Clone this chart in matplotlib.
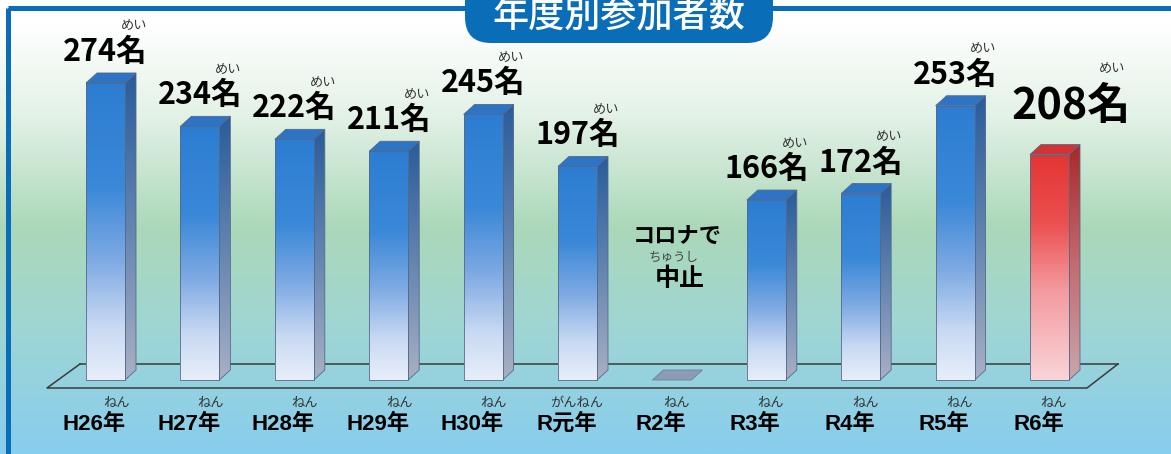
import numpy as np
import matplotlib
matplotlib.use('Agg')
import matplotlib.pyplot as plt
from matplotlib.colors import LinearSegmentedColormap
from matplotlib.patches import Polygon, Rectangle, FancyBboxPatch
from matplotlib.lines import Line2D

plt.rcParams['font.family'] = ['Noto Sans CJK JP', 'DejaVu Sans']

# data
years = ['H26年', 'H27年', 'H28年', 'H29年', 'H30年', 'R元年',
         'R2年', 'R3年', 'R4年', 'R5年', 'R6年']
year_ruby = ['ねん', 'ねん', 'ねん', 'ねん', 'ねん', 'がんねん',
             'ねん', 'ねん', 'ねん', 'ねん', 'ねん']
counts = [274, 234, 222, 211, 245, 197, 0, 166, 172, 253, 208]
cancelled = [False, False, False, False, False, False,
             True, False, False, False, False]
highlight = 10
unit = '名'
unit_ruby = 'めい'
title = '年度別参加者数'
note_top = 'コロナで'
note_ruby = 'ちゅうし'
note_bottom = '中止'

# layout (pixels)
W, H = 1171, 454
x0_px, pitch = 105.5, 94.4      # centre of first bar face, spacing
base_px, scale = 380, 1.084     # baseline from top, px per person
face_w = 39 / pitch
dx, dy = 11 / pitch, 10 / scale
pt = 72 / 100

blue = '#0a6db7'
blue_front = LinearSegmentedColormap.from_list(
    'bf', [(0, '#2c7dd2'), (0.35, '#3a88d8'), (0.6, '#7eaae3'),
           (0.82, '#c8d9f3'), (1, '#e8eef9')])
blue_side = LinearSegmentedColormap.from_list(
    'bs', [(0, '#2a5c9a'), (0.5, '#6384b0'), (1, '#a9b0c4')])
red_front = LinearSegmentedColormap.from_list(
    'rf', [(0, '#e33533'), (0.3, '#eb4f4f'), (0.6, '#f39a9e'), (1, '#f9d4d9')])
red_side = LinearSegmentedColormap.from_list(
    'rs', [(0, '#a82828'), (0.5, '#c26a6e'), (1, '#c9a7ac')])
bg_cmap = LinearSegmentedColormap.from_list(
    'bg', [(0, '#ffffff'), (0.05, '#ffffff'), (0.25, '#e4f2e7'),
           (0.5, '#abd8b9'), (0.72, '#9fd6d3'), (1, '#87cdee')])

fig = plt.figure(figsize=(W / 100, H / 100), dpi=100)

# pixel axes for background / decorations
pa = fig.add_axes([0, 0, 1, 1])
pa.set_xlim(0, W)
pa.set_ylim(H, 0)
pa.axis('off')
pa.imshow(np.linspace(0, 1, 256).reshape(-1, 1), cmap=bg_cmap, aspect='auto',
          extent=(0, W, H, 0), interpolation='bilinear')
pa.set_xlim(0, W)
pa.set_ylim(H, 0)
PX = pa.transData

# data axes
ax = fig.add_axes([0, 0, 1, 1])
ax.patch.set_alpha(0)
ax.axis('off')
ax.set_autoscale_on(False)
ax.set_xlim(-x0_px / pitch, (W - x0_px) / pitch)
ax.set_ylim(-(H - base_px) / scale, base_px / scale)

# floor
floor_col = '#3a3a3a'
ax.add_line(Line2D([80, 1118], [364, 364], transform=PX, color=floor_col, lw=1.1, zorder=1))
ax.add_line(Line2D([80, 47, 1087, 1118], [364, 388, 388, 364], transform=PX,
                   color=floor_col, lw=1.1, zorder=1))


def grad_face(verts, cmap, z):
    poly = Polygon(verts, closed=True, facecolor='none', edgecolor='#55698a',
                   lw=0.6, zorder=z + 0.1)
    ax.add_patch(poly)
    xs = [p[0] for p in verts]
    ys = [p[1] for p in verts]
    im = ax.imshow(np.linspace(0, 1, 256).reshape(-1, 1), cmap=cmap, aspect='auto',
                   extent=(min(xs), max(xs), min(ys), max(ys)), origin='upper',
                   interpolation='bilinear', zorder=z)
    im.set_clip_path(poly)


for i, v in enumerate(counts):
    l, r = i - face_w / 2, i + face_w / 2
    if cancelled[i]:
        ax.add_patch(Polygon([(l, 0), (l + dx, dy), (r + dx, dy), (r, 0)],
                             facecolor='#8d9cb6', edgecolor='#6f7f99', lw=0.6, zorder=3))
        continue
    hi = i == highlight
    grad_face([(r, 0), (r + dx, dy), (r + dx, v + dy), (r, v)],
              red_side if hi else blue_side, 3)
    grad_face([(l, 0), (r, 0), (r, v), (l, v)],
              red_front if hi else blue_front, 4)
    ax.add_patch(Polygon([(l, v), (l + dx, v + dy), (r + dx, v + dy), (r, v)],
                         facecolor='#d43333' if hi else '#2d74c4',
                         edgecolor='#55698a', lw=0.6, zorder=5))

# labels
value_texts = []
for i, v in enumerate(counts):
    if cancelled[i]:
        continue
    hi = i == highlight
    fs = 31 if hi else 22
    t = ax.annotate(f'{v}{unit}', xy=(i, v),
                    xytext=((22 if hi else 0) * pt, (49 if hi else 31) * pt),
                    textcoords='offset points', ha='center', va='center',
                    fontsize=fs, fontweight='bold', color='black', zorder=6)
    value_texts.append(t)

year_texts = []
for i, y in enumerate(years):
    t = ax.annotate(y, xy=(i, 0), xytext=(-11 * pt, -44 * pt),
                    textcoords='offset points', ha='center', va='center',
                    fontsize=16, fontweight='bold', color='black',
                    family=['Liberation Sans', 'Noto Sans CJK JP'], zorder=6)
    year_texts.append(t)

ci = cancelled.index(True)
ax.annotate(note_top, xy=(ci, 0), xytext=(5 * pt, 143 * pt), textcoords='offset points',
            ha='center', va='center', fontsize=16, fontweight='bold', zorder=6)
ax.annotate(note_ruby, xy=(ci, 0), xytext=(2 * pt, 123 * pt), textcoords='offset points',
            ha='center', va='center', fontsize=9, color='#444444', zorder=6)
ax.annotate(note_bottom, xy=(ci, 0), xytext=(8 * pt, 101 * pt), textcoords='offset points',
            ha='center', va='center', fontsize=18, fontweight='bold', zorder=6)

# furigana over the last kanji
fig.canvas.draw()
renderer = fig.canvas.get_renderer()


def ruby(t, text, nchar=1, lift=0.85):
    bb = t.get_window_extent(renderer)
    em = t.get_fontsize() / pt
    x = bb.x1 - 0.45 * em * nchar
    y = (bb.y0 + bb.y1) / 2 + lift * em
    fig.text(x, y, text, transform=None, ha='center', va='center',
             fontsize=9.5, color='#333333', zorder=7)


for t in value_texts:
    ruby(t, unit_ruby)
for t, rb in zip(year_texts, year_ruby):
    ruby(t, rb, 2 if len(rb) > 2 else 1, lift=0.92)

# frame, then title box on top of it
ax.add_patch(Rectangle((7.5, 7.5), 1200, 448, transform=PX, fill=False,
                       edgecolor=blue, lw=5 * pt, zorder=10, clip_on=False))
ax.add_patch(FancyBboxPatch((465, -40), 308, 83, transform=PX,
                            boxstyle='round,pad=0,rounding_size=26',
                            facecolor=blue, edgecolor='none', zorder=11, clip_on=False))
ax.text(619, 27, title, transform=PX, ha='center', va='baseline', color='white',
        fontsize=26, fontweight='medium', zorder=12)

fig.savefig('out.png', dpi=100)
